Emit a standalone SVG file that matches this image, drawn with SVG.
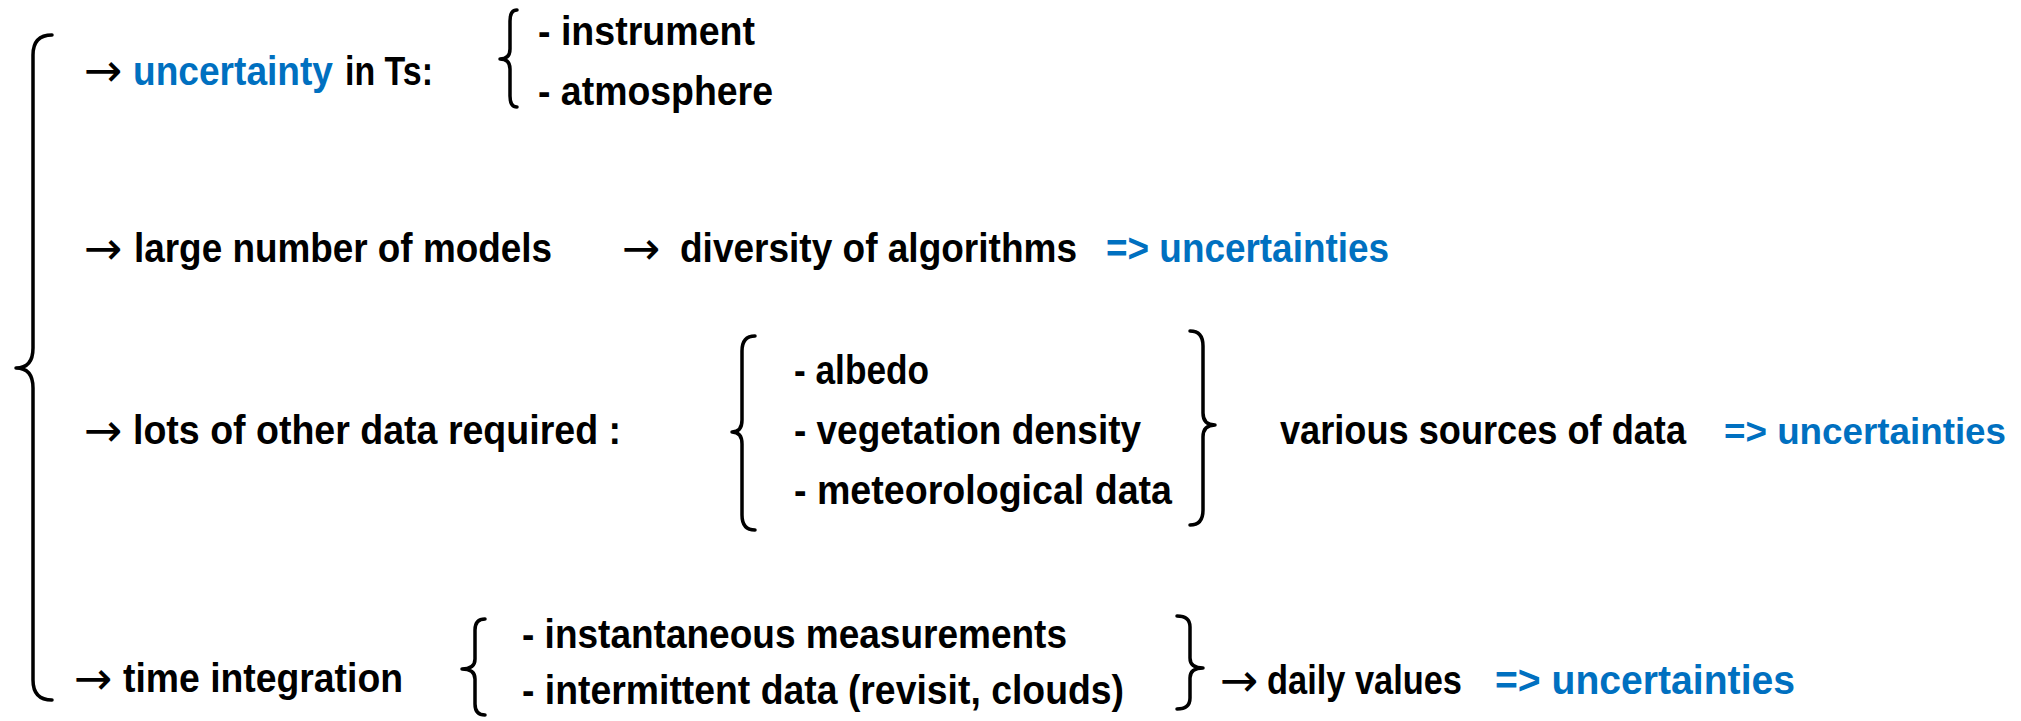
<svg xmlns="http://www.w3.org/2000/svg" width="2021" height="721" viewBox="0 0 2021 721">
<style>
.t{font-family:'Liberation Sans',Arial,sans-serif;font-weight:bold;font-size:40px;fill:#000}
.b{fill:#0070C0}
.s{font-size:37px}
.a{font-family:'DejaVu Sans','Liberation Sans',sans-serif;font-weight:normal;font-size:46px;fill:#000}
.br{fill:none;stroke:#000;stroke-width:3.5;stroke-linecap:round;stroke-linejoin:round}
</style>
<rect width="2021" height="721" fill="#fff"/>
<g id="connectors">
<path class="br" d="M52,35 Q33,35 33,55 L33,348 Q33,368 16,368 Q33,368 33,388 L33,680 Q33,700 52,700"/>
<path class="br" d="M517,10 Q510,10 510,21 L510,49 Q510,59 500,59 Q510,59 510,69 L510,96 Q510,107 517,107"/>
<path class="br" d="M755,336 Q742,336 742,351 L742,420 Q742,432 732,432 Q742,432 742,444 L742,515 Q742,530 755,530"/>
<path class="br" d="M1190,331 Q1203,331 1203,346 L1203,413 Q1203,425 1215,425 Q1203,425 1203,437 L1203,510 Q1203,525 1190,525"/>
<path class="br" d="M485,619 Q475,619 475,630 L475,659 Q475,669 462,669 Q475,669 475,679 L475,704 Q475,715 485,715"/>
<path class="br" d="M1177,616 Q1190,616 1190,627 L1190,658 Q1190,668 1203,668 Q1190,668 1190,678 L1190,698 Q1190,709 1177,709"/>
</g>
<g id="row1">
<text class="a" x="84" y="86">→</text>
<text class="t b" x="133" y="85" textLength="200" lengthAdjust="spacingAndGlyphs">uncertainty</text>
<text class="t" x="345" y="85" textLength="88" lengthAdjust="spacingAndGlyphs">in Ts:</text>
</g>
<g id="row1-items">
<text class="t" x="538" y="45" textLength="217" lengthAdjust="spacingAndGlyphs">- instrument</text>
<text class="t" x="538" y="105" textLength="235" lengthAdjust="spacingAndGlyphs">- atmosphere</text>
</g>
<g id="row2">
<text class="a" x="84" y="264">→</text>
<text class="t" x="134" y="262" textLength="418" lengthAdjust="spacingAndGlyphs">large number of models</text>
<text class="a" x="622" y="264">→</text>
<text class="t" x="680" y="262" textLength="397" lengthAdjust="spacingAndGlyphs">diversity of algorithms</text>
<text class="t b" x="1106" y="262" textLength="283" lengthAdjust="spacingAndGlyphs">=&gt; uncertainties</text>
</g>
<g id="row3">
<text class="a" x="84" y="446">→</text>
<text class="t" x="133" y="444" textLength="488" lengthAdjust="spacingAndGlyphs">lots of other data required :</text>
</g>
<g id="row3-items">
<text class="t" x="794" y="384" textLength="135" lengthAdjust="spacingAndGlyphs">- albedo</text>
<text class="t" x="794" y="444" textLength="347" lengthAdjust="spacingAndGlyphs">- vegetation density</text>
<text class="t" x="794" y="504" textLength="378" lengthAdjust="spacingAndGlyphs">- meteorological data</text>
</g>
<g id="row3-result">
<text class="t" x="1280" y="444" textLength="406" lengthAdjust="spacingAndGlyphs">various sources of data</text>
<text class="t b s" x="1724" y="444" textLength="282" lengthAdjust="spacingAndGlyphs">=&gt; uncertainties</text>
</g>
<g id="row4">
<text class="a" x="74" y="694">→</text>
<text class="t" x="123" y="692" textLength="280" lengthAdjust="spacingAndGlyphs">time integration</text>
</g>
<g id="row4-items">
<text class="t" x="522" y="648" textLength="545" lengthAdjust="spacingAndGlyphs">- instantaneous measurements</text>
<text class="t" x="522" y="704" textLength="602" lengthAdjust="spacingAndGlyphs">- intermittent data (revisit, clouds)</text>
</g>
<g id="row4-result">
<text class="a" x="1220" y="696">→</text>
<text class="t" x="1267" y="694" textLength="195" lengthAdjust="spacingAndGlyphs">daily values</text>
<text class="t b" x="1495" y="694" textLength="300" lengthAdjust="spacingAndGlyphs">=&gt; uncertainties</text>
</g>
</svg>
